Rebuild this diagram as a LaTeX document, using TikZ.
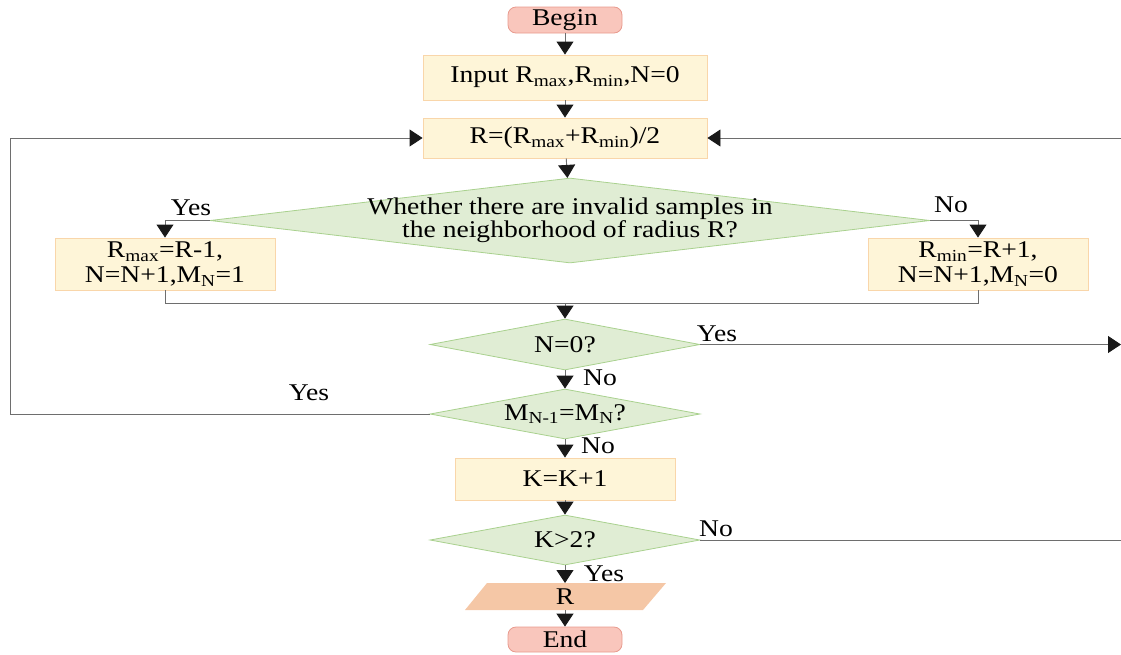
\documentclass[tikz,border=0pt]{standalone}
\usepackage{fontspec}
\setmainfont{Liberation Serif}[FakeStretch=1.15]
\usetikzlibrary{shapes.geometric,arrows.meta}
\definecolor{termfill}{HTML}{F9C6BC}
\definecolor{termdraw}{HTML}{E89A8E}
\definecolor{procfill}{HTML}{FEF5D8}
\definecolor{procdraw}{HTML}{F9D6AA}
\definecolor{decfill}{HTML}{E0EDD4}
\definecolor{decdraw}{HTML}{A9D18E}
\definecolor{iofill}{HTML}{F5C7A6}
\definecolor{linegray}{HTML}{6E6E6E}
\newcommand{\sbs}[1]{\textsubscript{#1}}
\tikzset{
  every node/.style={font=\fontsize{24}{25}\selectfont, inner sep=0pt},
  term/.style={draw=termdraw, fill=termfill, rounded corners=8pt, line width=0.8pt,
    minimum width=114pt, minimum height=26pt},
  proc/.style={draw=procdraw, fill=procfill, line width=0.9pt, align=center},
  dec/.style={draw=decdraw, fill=decfill, diamond, aspect=6, line width=0.8pt},
  conn/.style={draw=linegray, line width=0.9pt},
  arr/.style={conn, -{Triangle[width=17pt,length=13pt,color=black!90]}},
  lbl/.style={font=\fontsize{24}{25}\selectfont}
}
\begin{document}
\begin{tikzpicture}[x=1pt,y=-1pt]
\useasboundingbox (0,0) rectangle (1121,654);

% terminals and process boxes
\node[term] (begin) at (565,20) {\raisebox{-1pt}{Begin}};
\node[proc, minimum width=284pt, minimum height=45pt] (input) at (565,77.5)
  {Input R\sbs{max},R\sbs{min},N=0};
\node[proc, minimum width=284pt, minimum height=40pt] (mid) at (565,138)
  {R=(R\sbs{max}+R\sbs{min})/2};

% main decision
\node[dec, minimum width=720pt, minimum height=85pt,
  label={[align=center, font=\fontsize{24}{22}\selectfont]center:Whether there are invalid samples in\\the neighborhood of radius R?}]
  (check) at (570,220.5) {};

\node[proc, minimum width=220pt, minimum height=52pt] (lower) at (165,264)
  {R\sbs{max}=R-1,\\[0pt]N=N+1,M\sbs{N}=1};
\node[proc, minimum width=220pt, minimum height=52pt] (upper) at (978,264)
  {R\sbs{min}=R+1,\\[0pt]N=N+1,M\sbs{N}=0};

% second row of decisions
\node[dec, minimum width=270pt, minimum height=51pt] (nzero) at (565,344.5) {N=0?};
\node[dec, minimum width=270pt, minimum height=50pt] (msame) at (565,414)
  {M\sbs{N-1}=M\sbs{N}?};
\node[proc, minimum width=220pt, minimum height=42pt] (inc) at (565,479) {K=K+1};
\node[dec, minimum width=270pt, minimum height=50pt] (kbig) at (565,540) {K>2?};

% output parallelogram (y grows downward here)
\coordinate (outc) at (565,596.5);
\coordinate (outtop) at (565,583);
\coordinate (outbot) at (565,610);
\fill[iofill] (487,583) -- (666,583) -- (643,610) -- (465,610) -- cycle;
\node (out) at (outc) {R};

\node[term, minimum height=25pt] (end) at (565,639.5) {\raisebox{-1pt}{End}};

% helper points
\coordinate (lj) at (165,303);
\coordinate (rj) at (978,303);
\coordinate (mj) at (565,303);
\coordinate (ledge) at (10,414);
\coordinate (ltop) at (10,138);
\coordinate (redge1) at (1121,138);
\coordinate (redge2) at (1121,344.5);
\coordinate (redge3) at (1121,540);

% main flow
\draw[arr] (begin) -- (input);
\draw[arr] (input) -- (mid);
\draw[arr] (mid) -- (check);
\draw[arr] (check.west) -| (lower.north);
\draw[arr] (check.east) -| (upper.north);
\draw[conn] (lower.south) |- (lj) -- (rj) -| (upper.south);
\draw[arr] (mj) -- (nzero.north);
\draw[arr] (nzero) -- (msame);
\draw[arr] (msame) -- (inc);
\draw[arr] (inc) -- (kbig);
\draw[arr] (kbig.south) -- (outtop);
\draw[arr] (outbot) -- (end);

% loops and side exits
\draw[arr] (msame.west) -- (ledge) -- (ltop) -- (mid.west);
\draw[arr] (redge1) -- (mid.east);
\draw[arr] (nzero.east) -- (redge2);
\draw[conn] (kbig.east) -- (redge3);

% branch labels
\node[lbl] at (191,208) {Yes};
\node[lbl] at (951,205) {No};
\node[lbl] at (717,334) {Yes};
\node[lbl] at (600,378) {No};
\node[lbl] at (309,393) {Yes};
\node[lbl] at (598,446) {No};
\node[lbl] at (716,529) {No};
\node[lbl] at (604,574) {Yes};
\end{tikzpicture}
\end{document}
